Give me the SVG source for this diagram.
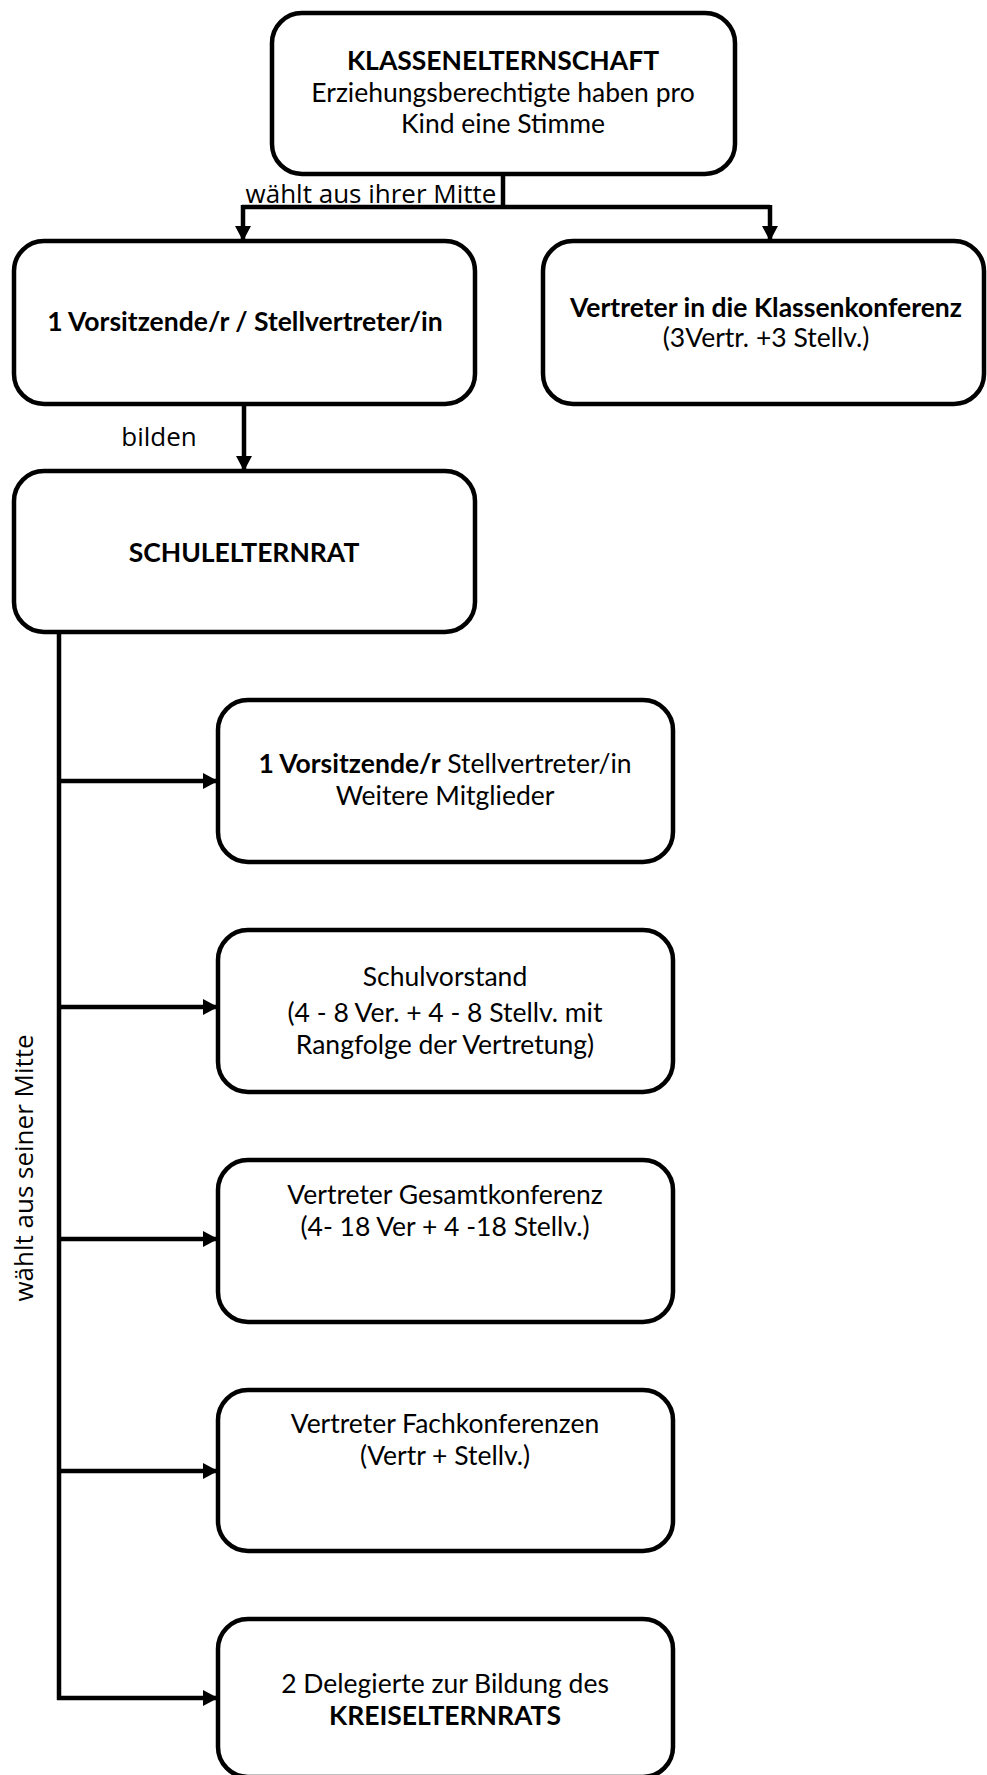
<svg xmlns="http://www.w3.org/2000/svg" width="987" height="1775" viewBox="0 0 987 1775">
<style>
.box{fill:#fff;stroke:#000;stroke-width:4.5}
.t{font-family:Lato,"Open Sans","Liberation Sans",sans-serif;font-size:26.5px;fill:#000;text-anchor:middle}
.b{font-weight:bold}
.l{font-family:"Open Sans","Noto Sans","Liberation Sans",sans-serif;font-size:26px;fill:#000;text-anchor:middle}
.c{fill:none;stroke:#000;stroke-width:4.5}
</style>
<defs>
<marker id="ah" markerUnits="userSpaceOnUse" markerWidth="15" markerHeight="16" refX="14" refY="8" orient="auto">
<path d="M0,0 L15,8 L0,16 z" fill="#000"/>
</marker>
</defs>
<rect width="987" height="1775" fill="#fff"/>
<g id="connectors">
<path class="c" d="M503,175 V207"/>
<path class="c" d="M242,207 H770"/>
<path class="c" d="M243,205 V240" marker-end="url(#ah)"/>
<path class="c" d="M770,205 V240" marker-end="url(#ah)"/>
<path class="c" d="M244,404 V470" marker-end="url(#ah)"/>
<path class="c" d="M59,632 V1700"/>
<path class="c" d="M57,781 H217" marker-end="url(#ah)"/>
<path class="c" d="M57,1007 H217" marker-end="url(#ah)"/>
<path class="c" d="M57,1239 H217" marker-end="url(#ah)"/>
<path class="c" d="M57,1471 H217" marker-end="url(#ah)"/>
<path class="c" d="M57,1698 H217" marker-end="url(#ah)"/>
<text class="l" x="371" y="203">wählt aus ihrer Mitte</text>
<text class="l" x="159" y="446">bilden</text>
<text class="l" transform="translate(33,1168) rotate(-90)">wählt aus seiner Mitte</text>
</g>
<g id="klassenelternschaft">
<rect class="box" x="272" y="13" width="463" height="161" rx="30"/>
<text class="t b" x="503" y="70">KLASSENELTERNSCHAFT</text>
<text class="t" x="503" y="102">Erziehungsberechtigte haben pro</text>
<text class="t" x="503" y="133">Kind eine Stimme</text>
</g>
<g id="vorsitz1">
<rect class="box" x="14" y="241" width="461" height="163" rx="30"/>
<text class="t b" x="245" y="331">1 Vorsitzende/r / Stellvertreter/in</text>
</g>
<g id="klassenkonferenz">
<rect class="box" x="543" y="241" width="441" height="163" rx="30"/>
<text class="t b" x="766" y="317">Vertreter in die Klassenkonferenz</text>
<text class="t" x="766" y="347">(3Vertr. +3 Stellv.)</text>
</g>
<g id="schulelternrat">
<rect class="box" x="14" y="471" width="461" height="161" rx="30"/>
<text class="t b" x="244" y="562">SCHULELTERNRAT</text>
</g>
<g id="vorsitz2">
<rect class="box" x="218" y="700" width="455" height="162" rx="30"/>
<text class="t" x="445" y="773"><tspan class="b">1 Vorsitzende/r</tspan> Stellvertreter/in</text>
<text class="t" x="445" y="805">Weitere Mitglieder</text>
</g>
<g id="schulvorstand">
<rect class="box" x="218" y="930" width="455" height="162" rx="30"/>
<text class="t" x="445" y="986">Schulvorstand</text>
<text class="t" x="445" y="1022">(4 - 8 Ver. + 4 - 8 Stellv. mit</text>
<text class="t" x="445" y="1054">Rangfolge der Vertretung)</text>
</g>
<g id="gesamtkonferenz">
<rect class="box" x="218" y="1160" width="455" height="162" rx="30"/>
<text class="t" x="445" y="1204">Vertreter Gesamtkonferenz</text>
<text class="t" x="445" y="1236">(4- 18 Ver + 4 -18 Stellv.)</text>
</g>
<g id="fachkonferenzen">
<rect class="box" x="218" y="1390" width="455" height="161" rx="30"/>
<text class="t" x="445" y="1433">Vertreter Fachkonferenzen</text>
<text class="t" x="445" y="1465">(Vertr + Stellv.)</text>
</g>
<g id="kreiselternrat">
<rect class="box" x="218" y="1619" width="455" height="158" rx="30"/>
<text class="t" x="445" y="1693">2 Delegierte zur Bildung des</text>
<text class="t b" x="445" y="1725">KREISELTERNRATS</text>
</g>
</svg>
